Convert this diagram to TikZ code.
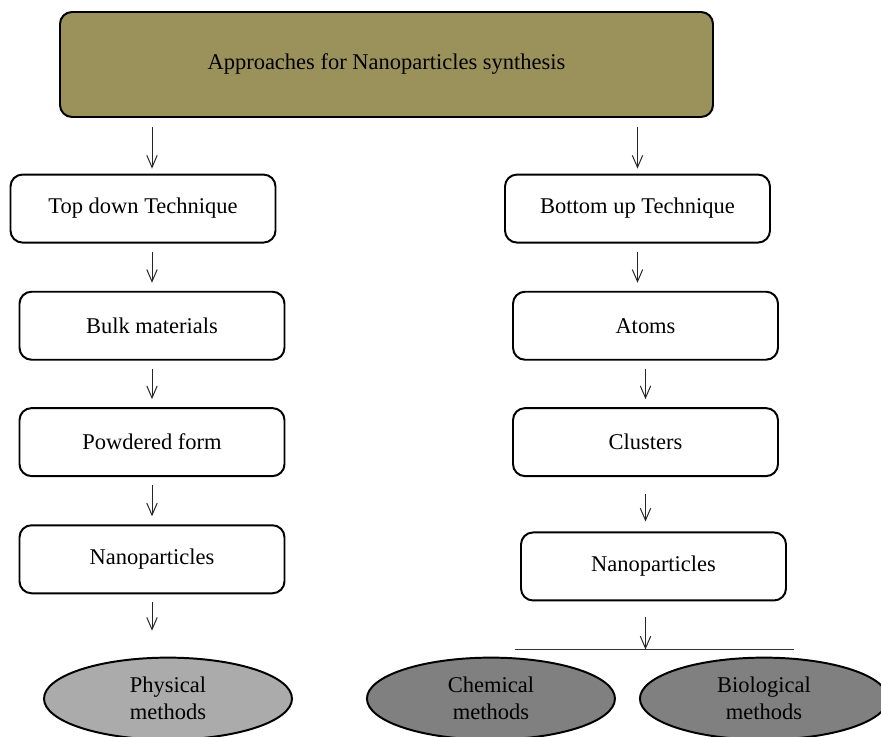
\documentclass[tikz,border=0pt]{standalone}
\usepackage{fontspec}
\setmainfont{Liberation Serif}
\usetikzlibrary{positioning,shapes.geometric,arrows.meta}
\definecolor{khaki}{RGB}{155,145,90}
\definecolor{lightgrey}{RGB}{171,171,171}
\definecolor{midgrey}{RGB}{128,128,128}

\begin{document}
\begin{tikzpicture}
    [%%%%%%%%%%%%%%%%%%%%%%%%%%%%%%%%%%%%%%%%%%%%%%%%%%%%%%%%%%
        node distance =1.16cm,>={Straight Barb[length=3mm,width=2.6mm]},
        font=\fontsize{16}{19}\selectfont,
        stage/.style={rectangle,rounded corners=3mm,draw=black,line width=1.4pt,
                      fill=white,minimum width=6.625cm,minimum height=1.7cm},
        method/.style={ellipse,draw=black,line width=1.4pt,align=center,
                       inner sep=0pt,minimum width=6.2cm,minimum height=2.05cm},
        flow/.style={->,line width=0.7pt,draw=black!85,shorten <=0.2cm,shorten >=0.2cm}
    ]%%%%%%%%%%%%%%%%%%%%%%%%%%%%%%%%%%%%%%%%%%%%%%%%%%%%%%%%%%
    \useasboundingbox[fill=white] (-9.6625,1.6125) rectangle (12.3625,-16.8125);

    \node[stage,fill=khaki,minimum width=16.325cm,minimum height=2.625cm] (top) {Approaches for Nanoparticles synthesis};

    % top down branch
    \node[stage] (tdown) [below=1.39cm of top.south,anchor=north,xshift=-6.0875cm] {Top down Technique};
    \node[stage] (bulk) [below=1.18cm of tdown,xshift=0.225cm] {Bulk materials};
    \node[stage] (powder) [below=of bulk] {Powdered form};
    \node[stage] (nanoL) [below=1.18cm of powder] {Nanoparticles};
    \node[method,fill=lightgrey] (phys) [below=1.56cm of nanoL,xshift=0.4cm] {Physical\\methods};

    % bottom up branch
    \node[stage] (bup) [below=1.39cm of top.south,anchor=north,xshift=6.275cm] {Bottom up Technique};
    \node[stage] (atoms) [below=1.18cm of bup,xshift=0.2cm] {Atoms};
    \node[stage] (clust) [below=1.16cm of atoms] {Clusters};
    \node[stage] (nanoR) [below=1.36cm of clust,xshift=0.2cm] {Nanoparticles};
    \coordinate[below=1.2cm of nanoR.south -| clust] (bar);
    \node[method,fill=midgrey] (chem) [right=1.825cm of phys] {Chemical\\methods};
    \node[method,fill=midgrey] (bio) [right=0.575cm of chem] {Biological\\methods};

    \draw [flow,shorten <=0.225cm,shorten >=0.125cm] (top.south -| bulk) -- (tdown.north -| bulk);
    \draw [flow] (tdown.south -| bulk) -- (bulk.north);
    \draw [flow] (powder.north |- bulk.south) -- (powder.north);
    \draw [flow] (powder.south) -- (nanoL.north);
    \draw [flow,shorten >=0.65cm] (nanoL.south) -- (phys.north -| nanoL);

    \draw [flow,shorten <=0.225cm,shorten >=0.125cm] (top.south -| bup) -- (bup.north);
    \draw [flow] (bup.south) -- (atoms.north -| bup);
    \draw [flow] (atoms.south) -- (clust.north -| atoms);
    \draw [flow,shorten <=0.425cm,shorten >=0.25cm] (clust.south) -- (nanoR.north -| clust);
    \draw [flow,shorten <=0.4cm,shorten >=0pt] (nanoR.south -| clust) -- (bar);
    \draw [line width=0.9pt,draw=black!80] (bar) ++(-3.275cm,0) -- ++(6.975cm,0);
\end{tikzpicture}
\end{document}
